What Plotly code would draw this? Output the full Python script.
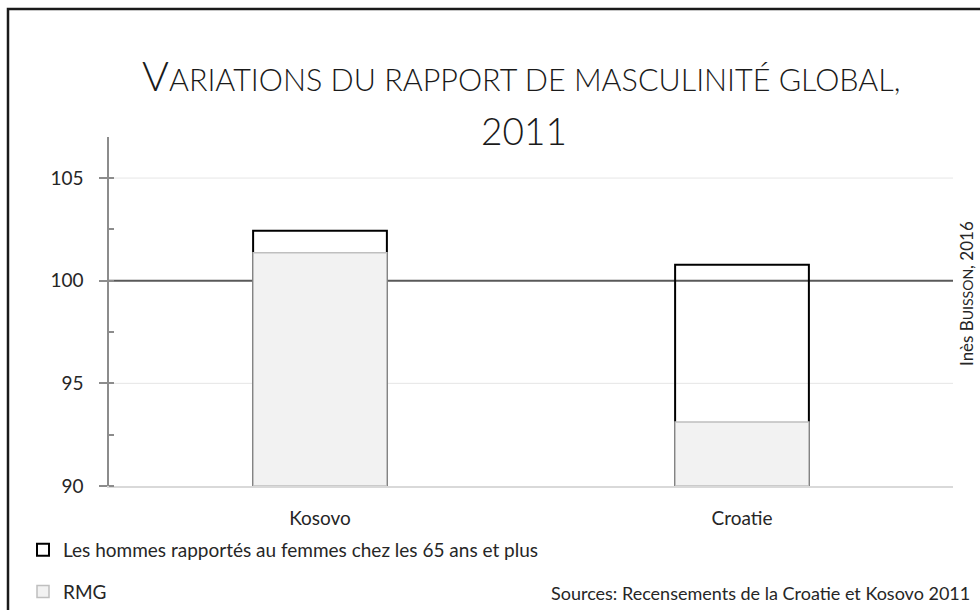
import plotly.graph_objects as go

categories = ["Kosovo", "Croatie"]
hommes_65_plus = [102.43, 100.78]
rmg = [101.36, 93.12]
y_ticks = [90, 95, 100, 105]
reference_line = 100
base_value = 90
legend_names = ["Les hommes rapportés au femmes chez les 65 ans et plus", "RMG"]

FONT = "Lato"
TXT = "#262626"

# plot area in pixels: x 109..953, y 137..486
L, R, T, B = 109, 27, 137, 124
PW, PH = 980 - L - R, 610 - T - B


def px(x):
    return (x - L) / PW


def py(y):
    return (610 - B - y) / PH


fig = go.Figure()
fig.add_trace(go.Bar(
    x=categories, y=[v - base_value for v in hommes_65_plus], base=base_value,
    name=legend_names[0], width=0.317,
    marker=dict(color="rgba(255,255,255,0)", line=dict(color="#000000", width=2)),
    legendgroup="a",
))
fig.add_trace(go.Bar(
    x=categories, y=[v - base_value for v in rmg], base=base_value,
    name=legend_names[1], width=0.317,
    marker=dict(color="#f2f2f2", line=dict(color="#bfbfbf", width=1.5)),
    legendgroup="b",
))

grid_shapes = [
    dict(type="line", xref="paper", yref="y", x0=0, x1=1, y0=t, y1=t,
         line=dict(color="#e6e6e6", width=1), layer="below")
    for t in y_ticks if t not in (base_value, reference_line)
]

fig.update_layout(
    width=980, height=610,
    margin=dict(l=L, r=R, t=T, b=B, autoexpand=False),
    paper_bgcolor="white", plot_bgcolor="white",
    barmode="overlay",
    font=dict(family=FONT, size=19, color=TXT),
    showlegend=True,
    legend=dict(
        x=px(23), y=py(531), xanchor="left", yanchor="top",
        orientation="v", tracegroupgap=14, itemwidth=30,
        font=dict(family=FONT, size=19, color=TXT),
        bgcolor="rgba(0,0,0,0)",
    ),
    xaxis=dict(
        type="category", showgrid=False, showline=True, linecolor="#d9d9d9", linewidth=1.5,
        ticks="", tickfont=dict(family=FONT, size=19, color=TXT), ticklabelstandoff=14,
        zeroline=False,
    ),
    yaxis=dict(
        range=[90, 107], tickvals=y_ticks, showgrid=False,
        showline=True, linecolor="#8c8c8c", linewidth=1.5,
        ticks="outside", ticklen=8, tickcolor="#8c8c8c", tickwidth=1.5,
        minor=dict(dtick=2.5, ticks="inside", ticklen=5, tickcolor="#8c8c8c", tickwidth=1.5, showgrid=False),
        tickfont=dict(family=FONT, size=19, color=TXT), ticklabelstandoff=12,
        zeroline=False,
    ),
    shapes=grid_shapes + [
        dict(type="line", xref="paper", yref="y", x0=0, x1=1, y0=reference_line, y1=reference_line,
             line=dict(color="#595959", width=2), layer="below"),
        dict(type="rect", xref="paper", yref="paper", x0=px(8), x1=px(1000), y0=py(9), y1=py(640),
             line=dict(color="#1a1a1a", width=2.5), fillcolor="rgba(0,0,0,0)", layer="above"),
    ],
    annotations=[
        dict(xref="paper", yref="paper", x=px(521), y=py(76), xanchor="center", yanchor="middle",
             text="<span style='font-size:41px'>V</span>ARIATIONS DU RAPPORT DE MASCULINITÉ GLOBAL,",
             showarrow=False, font=dict(family=FONT, size=30.5, color="#1a1a1a", weight=300)),
        dict(xref="paper", yref="paper", x=px(524), y=py(130), xanchor="center", yanchor="middle",
             text="2011",
             showarrow=False, font=dict(family=FONT, size=37, color="#1a1a1a", weight=300)),
        dict(xref="paper", yref="paper", x=px(972), y=py(593), xanchor="right", yanchor="middle",
             text="Sources: Recensements de la Croatie et Kosovo 2011",
             showarrow=False, font=dict(family=FONT, size=18, color=TXT)),
        dict(xref="paper", yref="paper", x=px(966), y=py(294), xanchor="center", yanchor="middle",
             text="Inès B<span style='font-size:14px'>UISSON</span>, 2016", textangle=-90,
             showarrow=False, font=dict(family=FONT, size=17, color=TXT)),
    ],
)

fig.write_html(
    "out.html",
    config={"displayModeBar": False},
    post_script="document.body.style.margin='0';document.body.style.overflow='hidden';",
)
